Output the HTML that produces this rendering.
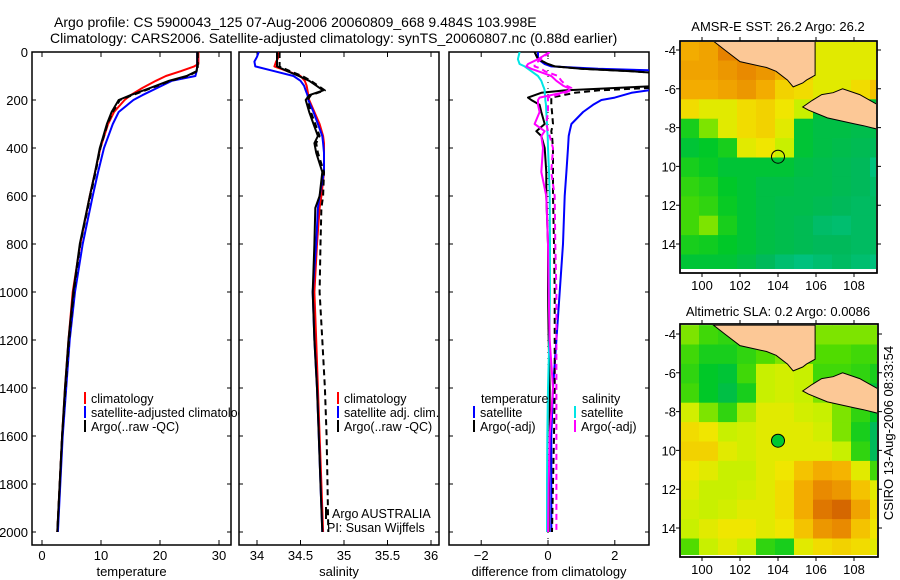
<!DOCTYPE html>
<html><head><meta charset="utf-8">
<style>
html,body{margin:0;padding:0;background:#fff;width:900px;height:580px;overflow:hidden}
svg{display:block;font-family:"Liberation Sans",sans-serif}
</style></head>
<body>
<svg id="fig" width="900" height="580" viewBox="0 0 900 580" xmlns="http://www.w3.org/2000/svg">
<defs>
<clipPath id="c1"><rect x="32" y="52" width="199" height="493"/></clipPath>
<clipPath id="c2"><rect x="239" y="52" width="200" height="493"/></clipPath>
<clipPath id="c3"><rect x="449" y="52" width="200" height="493"/></clipPath>
<clipPath id="m1"><rect x="681" y="42" width="195" height="227"/></clipPath>
<clipPath id="m2"><rect x="681" y="325" width="196" height="230"/></clipPath>
</defs>
<text x="54" y="27" font-size="14">Argo profile: CS 5900043_125 07-Aug-2006 20060809_668 9.484S 103.998E</text>
<text x="50" y="43" font-size="14">Climatology: CARS2006. Satellite-adjusted climatology: synTS_20060807.nc (0.88d earlier)</text>
<g id="g"></g>
<text x="778" y="31" font-size="13" text-anchor="middle">AMSR-E SST: 26.2 Argo: 26.2</text>
<text x="778" y="316" font-size="13" text-anchor="middle">Altimetric SLA: 0.2 Argo: 0.0086</text>
<text transform="translate(893,433) rotate(-90)" font-size="13" text-anchor="middle">CSIRO 13-Aug-2006 08:33:54</text>
</svg>
<script>
// ---------- profile data ----------
const tDepth=[0,50,60,80,100,120,150,180,200,250,300,400,500,600,800,1000,1200,1400,1600,1800,2000];
const tClim=[26.5,26.5,25.8,23.5,21,19.3,17,15,14,12.2,11.2,9.9,9,8.1,6.5,5.2,4.5,3.9,3.4,3.0,2.6];
const tSat=[26.3,26.3,26.3,26.2,26.0,22,19.5,17,15.5,13,12,10.5,9.5,8.6,6.9,5.6,4.7,4.1,3.5,3.1,2.7];
const tArgo=[26.3,26.3,26.3,26.2,24.5,21.5,18.3,15,13,11.8,11,9.8,9,8.1,6.4,5.3,4.5,3.9,3.4,3.0,2.6];
const tArgoRaw=[26.4,26.4,26.4,26.3,24.8,21.8,18.6,15.3,13.2,12,11.1,9.9,9.1,8.2,6.5,5.4,4.6,4.0,3.4,3.0,2.6];

const sDepth=[0,20,40,60,80,100,120,140,160,180,200,250,300,350,380,420,500,600,650,800,1000,1200,1400,1600,1800,2000];
const sClim=[34.25,34.25,34.22,34.2,34.35,34.5,34.55,34.57,34.58,34.59,34.6,34.66,34.72,34.76,34.77,34.77,34.77,34.74,34.72,34.69,34.66,34.68,34.70,34.72,34.74,34.76];
const sSat=[34.02,34.0,33.97,33.98,34.2,34.42,34.5,34.54,34.56,34.58,34.59,34.65,34.7,34.75,34.76,34.77,34.77,34.72,34.7,34.68,34.64,34.66,34.69,34.71,34.73,34.75];
const sArgo=[34.23,34.23,34.23,34.23,34.35,34.48,34.6,34.68,34.76,34.6,34.56,34.6,34.65,34.7,34.66,34.68,34.75,34.72,34.67,34.66,34.64,34.66,34.69,34.71,34.73,34.75];
const sArgoRaw=[34.26,34.26,34.26,34.26,34.38,34.52,34.62,34.7,34.78,34.62,34.58,34.62,34.67,34.72,34.68,34.7,34.77,34.76,34.74,34.73,34.72,34.75,34.78,34.80,34.81,34.82];

const dDepth=[0,30,50,60,70,80,90,100,120,140,150,160,170,190,200,220,250,300,330,350,400,500,600,800,1000,1200,1400,1600,1800,2000];
const dTSat=[-0.3,-0.3,-0.1,0.1,1.5,4,6,7,7,6,4.5,3,2.5,2,1.6,1.35,1.05,0.7,0.65,0.62,0.6,0.55,0.5,0.45,0.35,0.25,0.15,0.1,0.1,0.1];
const dTArgo=[-0.4,-0.3,0,0.2,1,2.5,3.5,4,4.5,3.5,2,0.5,-0.2,-0.6,-0.5,-0.25,-0.2,-0.1,-0.35,-0.2,-0.1,-0.05,-0.05,0,0,0.02,0.05,0.05,0.03,0.02];
const dTRaw=[-0.4,-0.3,0,0.2,1,2.5,3.5,4,4.5,4,3,1.5,0.8,0.1,0.1,0.1,0.12,0.15,0.1,0.12,0.15,0.15,0.15,0.18,0.2,0.2,0.2,0.18,0.15,0.12];
const dSSat=[-0.85,-0.9,-0.85,-0.7,-0.6,-0.5,-0.4,-0.3,-0.2,-0.15,-0.12,-0.1,-0.1,-0.08,-0.08,-0.06,-0.05,-0.03,-0.02,-0.01,0,0.03,0.05,0.06,0.06,0.04,0,-0.02,-0.03,-0.03];
const dSArgo=[0.05,-0.3,-0.6,-0.65,-0.5,-0.3,-0.1,0.1,0.25,0.45,0.6,0.65,0.4,-0.25,-0.3,-0.3,-0.25,-0.4,-0.1,-0.2,-0.15,-0.2,-0.05,0,0.02,0.05,0.15,0.05,0.02,0];
const dSRaw=[0.05,-0.2,-0.4,-0.4,-0.2,-0.1,0.1,0.3,0.4,0.55,0.7,0.7,0.5,0,0,0,0,-0.05,0,0.05,0.15,0.1,0.2,0.22,0.25,0.25,0.25,0.25,0.25,0.25];

const depthTicks=[0,200,400,600,800,1000,1200,1400,1600,1800,2000];
const tTicks=[0,10,20,30];
const sTicks=[34,34.5,35,35.5,36];
const sTickLabels=["34","34.5","35","35.5","36"];
const dTicks=[-2,0,2];
const dTickLabels=["\u22122","0","2"];

// ---------- map data (1° cells, rows from -3.5 southward, cols from 98.84 eastward) ----------
const lonTicks=[100,102,104,106,108];
const latTicks=[-4,-6,-8,-10,-12,-14];
const latTickLabels=["-4","-6","-8","10","12","14"];
const sstGrid=[
[0.7,0.72,0.8,0.9,0.85,0.7,0.6,0.55,0.55,0.55,0.55],
[0.72,0.72,0.75,0.78,0.75,0.7,0.65,0.55,0.55,0.55,0.55],
[0.7,0.7,0.72,0.75,0.7,0.62,0.6,0.55,0.55,0.6,0.65],
[0.6,0.55,0.55,0.6,0.62,0.58,0.5,0.3,0.3,0.3,0.3],
[0.35,0.45,0.55,0.6,0.62,0.55,0.3,0.28,0.28,0.27,0.27],
[0.3,0.32,0.35,0.55,0.58,0.5,0.3,0.28,0.27,0.26,0.25],
[0.35,0.33,0.3,0.3,0.3,0.3,0.28,0.27,0.26,0.25,0.2],
[0.38,0.36,0.32,0.3,0.28,0.28,0.27,0.27,0.26,0.25,0.23],
[0.4,0.38,0.33,0.3,0.28,0.27,0.27,0.26,0.25,0.24,0.24],
[0.4,0.45,0.35,0.3,0.28,0.27,0.26,0.23,0.22,0.24,0.24],
[0.35,0.34,0.32,0.3,0.28,0.27,0.26,0.25,0.25,0.24,0.24],
[0.3,0.3,0.3,0.28,0.25,0.22,0.2,0.22,0.24,0.22,0.2]];
const slaGrid=[
[0.45,0.4,0.38,0.38,0.42,0.45,0.45,0.45,0.45,0.45,0.45],
[0.4,0.35,0.35,0.38,0.42,0.45,0.42,0.42,0.42,0.4,0.4],
[0.38,0.32,0.3,0.4,0.5,0.52,0.5,0.4,0.4,0.38,0.35],
[0.4,0.32,0.28,0.35,0.5,0.52,0.5,0.45,0.4,0.35,0.3],
[0.52,0.45,0.38,0.48,0.55,0.55,0.52,0.5,0.45,0.38,0.32],
[0.6,0.58,0.5,0.52,0.55,0.55,0.55,0.52,0.45,0.35,0.25],
[0.62,0.62,0.55,0.52,0.55,0.55,0.55,0.55,0.5,0.38,0.25],
[0.58,0.55,0.5,0.5,0.55,0.58,0.65,0.7,0.68,0.55,0.4],
[0.55,0.5,0.5,0.52,0.55,0.6,0.7,0.78,0.75,0.65,0.55],
[0.52,0.5,0.52,0.55,0.55,0.6,0.7,0.82,0.85,0.72,0.6],
[0.5,0.55,0.58,0.58,0.55,0.58,0.65,0.75,0.78,0.65,0.58],
[0.42,0.5,0.55,0.5,0.38,0.35,0.55,0.6,0.62,0.6,0.55]];
const sumatraLon=[100.6,101.2,102,103.4,103.9,104.5,104.8,105.3,105.5,105.95,105.95];
const sumatraLat=[-3.54,-4.0,-4.6,-4.9,-5.1,-5.55,-5.9,-5.7,-5.55,-5.3,-3.54];
const javaLon=[105.3,105.8,106.3,106.9,107.4,108.3,109.3,109.3,108.5,108,106.6,105.6];
const javaLat=[-6.94,-6.6,-6.3,-6.2,-6.0,-6.3,-6.85,-8.1,-7.9,-7.8,-7.5,-7.1];
const argoLon=104.0, argoLat=-9.5;

const NS="http://www.w3.org/2000/svg";
const G=document.getElementById('g');
function mk(tag,at,parent){const e=document.createElementNS(NS,tag);for(const k in at)e.setAttribute(k,at[k]);(parent||G).appendChild(e);return e;}

const yD=d=>52+d*0.24;
const xT=v=>42+v*5.9;
const xS=v=>257+(v-34)*87;
const xDf=v=>548+v*33.4;

function panel(x0,x1,name,clip,xs,ticks,labels,title,showY){
  const bg=mk('rect',{x:x0,y:52,width:x1-x0,height:493,fill:'#fff',stroke:'#000','stroke-width':1.5});
  
  
  depthTicks.forEach(d=>{
    const t=mk('path',{d:`M${x0},${yD(d)}h4M${x1},${yD(d)}h-4`,stroke:'#000','stroke-width':1});
    
    
    if(showY){const l=mk('text',{x:x0-4,y:yD(d)+5,'font-size':13,'text-anchor':'end'});l.textContent=d;
      
      }
  });
  ticks.forEach((v,i)=>{
    const t=mk('path',{d:`M${xs(v)},545v-5M${xs(v)},52v5`,stroke:'#000','stroke-width':1});
    
    
    const l=mk('text',{x:xs(v),y:560,'font-size':13,'text-anchor':'middle'});l.textContent=labels[i];
    
    
  });
  const tl=mk('text',{x:(x0+x1)/2,y:576,'font-size':13,'text-anchor':'middle'});tl.textContent=title;
  
  
}
function line(depths,vals,xs,color,clip,name,dash){
  const p=depths.map((d,i)=>(i?'L':'M')+xs(vals[i]).toFixed(1)+','+yD(d).toFixed(1)).join('');
  const e=mk('path',{d:p,fill:'none',stroke:color,'stroke-width':2,'clip-path':`url(#${clip})`,'stroke-dasharray':dash||'none','stroke-linejoin':'round'});
  
  
}
function legend(x,y,color,text,name){
  const b=mk('line',{x1:x,y1:y-11,x2:x,y2:y+1,stroke:color,'stroke-width':2});
  
  
  const t=mk('text',{x:x+6,y:y,'font-size':12.5});t.textContent=text;
  
  
}

// Panel 1 temperature
panel(32,231,'temperature-panel','c1',xT,tTicks,tTicks.map(String),'temperature',true);
line(tDepth,tClim,xT,'#ff0000','c1','temp-climatology-line');
line(tDepth,tSat,xT,'#0000ff','c1','temp-satellite-line');
line(tDepth,tArgoRaw,xT,'#000','c1','temp-argo-raw-line','6,4');
line(tDepth,tArgo,xT,'#000','c1','temp-argo-line');
legend(85,403,'#ff0000','climatology','legend-climatology');
legend(85,417,'#0000ff','satellite-adjusted climatology','legend-satellite-adjusted');
legend(85,431,'#000','Argo(..raw -QC)','legend-argo');

// Panel 2 salinity
panel(239,439,'salinity-panel','c2',xS,sTicks,sTickLabels,'salinity',false);
line(sDepth,sClim,xS,'#ff0000','c2','sal-climatology-line');
line(sDepth,sSat,xS,'#0000ff','c2','sal-satellite-line');
line(sDepth,sArgoRaw,xS,'#000','c2','sal-argo-raw-line','6,4');
line(sDepth,sArgo,xS,'#000','c2','sal-argo-line');
legend(338,403,'#ff0000','climatology','legend2-climatology');
legend(338,417,'#0000ff','satellite adj. clim.','legend2-satellite');
legend(338,431,'#000','Argo(..raw -QC)','legend2-argo');
legend(326,518,'#000','Argo AUSTRALIA','argo-australia-note');
const pi=mk('text',{x:327,y:532,'font-size':12.5});pi.textContent='PI: Susan Wijffels';



// Panel 3 difference
panel(449,649,'difference-panel','c3',xDf,dTicks,dTickLabels,'difference from climatology',false);
const zl=mk('line',{x1:xDf(0),y1:52,x2:xDf(0),y2:545,stroke:'#000','stroke-width':1,'stroke-dasharray':'1,5'});


line(dDepth,dTSat,xDf,'#0000ff','c3','diff-temp-satellite-line');
line(dDepth,dTRaw,xDf,'#000','c3','diff-temp-argo-raw-line','6,4');
line(dDepth,dTArgo,xDf,'#000','c3','diff-temp-argo-line');
line(dDepth,dSSat,xDf,'#00e5e5','c3','diff-sal-satellite-line');
line(dDepth,dSRaw,xDf,'#ff00ff','c3','diff-sal-argo-raw-line','6,4');
line(dDepth,dSArgo,xDf,'#ff00ff','c3','diff-sal-argo-line');
const lt=mk('text',{x:481,y:403,'font-size':12.5});lt.textContent='temperature';


const ls=mk('text',{x:582,y:403,'font-size':12.5});ls.textContent='salinity';


legend(474,417,'#0000ff','satellite','legend3-temp-satellite');
legend(474,431,'#000','Argo(-adj)','legend3-temp-argo');
legend(575,417,'#00e5e5','satellite','legend3-sal-satellite');
legend(575,431,'#ff00ff','Argo(-adj)','legend3-sal-argo');

// ---------- maps ----------
const stops=[[0.15,[0,200,160]],[0.25,[0,185,90]],[0.32,[0,200,40]],[0.42,[80,220,0]],[0.5,[200,240,0]],[0.58,[240,230,0]],[0.68,[245,180,0]],[0.8,[230,130,0]],[0.95,[180,50,0]]];
function cmap(v){
  if(v<=stops[0][0])return `rgb(${stops[0][1]})`;
  for(let i=1;i<stops.length;i++){if(v<=stops[i][0]){const a=stops[i-1],b=stops[i],f=(v-a[0])/(b[0]-a[0]);
    return 'rgb('+a[1].map((c,k)=>Math.round(c+(b[1][k]-c)*f)).join(',')+')';}}
  return `rgb(${stops[stops.length-1][1]})`;
}
function drawMap(grid,y4,clip,name,bx,by,bw,bh,filledMarker){
  const mx=lon=>702+(lon-100)*19;
  const my=lat=>y4+(-4-lat)*19.4;
  const frame=mk('rect',{x:bx,y:by,width:bw,height:bh,fill:'#fff',stroke:'#000','stroke-width':1.5});
  
  
  grid.forEach((row,r)=>row.forEach((v,c)=>{
    const x=mx(98.84+c),y=my(-3.54-r);
    const e=mk('rect',{x:x.toFixed(1),y:y.toFixed(1),width:19.6,height:20,fill:cmap(v),'clip-path':`url(#${clip})`});
    
    
  }));
  [[sumatraLon,sumatraLat,'sumatra'],[javaLon,javaLat,'java']].forEach(([lo,la,nm])=>{
    const p=lo.map((l,i)=>(i?'L':'M')+mx(l).toFixed(1)+','+my(la[i]).toFixed(1)).join('')+'Z';
    const e=mk('path',{d:p,fill:'#fcc896',stroke:'#000','stroke-width':1,'clip-path':`url(#${clip})`});
    
    
  });
  const m=mk('circle',{cx:mx(argoLon),cy:my(argoLat),r:6.5,fill:filledMarker?'#00c830':'none',stroke:'#000','stroke-width':1});
  
  
  const fr=mk('rect',{x:bx,y:by,width:bw,height:bh,fill:'none',stroke:'#000','stroke-width':1.5});
  
  
  lonTicks.forEach(l=>{
    const t=mk('path',{d:`M${mx(l)},${by}v-4M${mx(l)},${by+bh}v4`,stroke:'#000'});
    
    
    const tx=mk('text',{x:mx(l),y:by+bh+17,'font-size':13,'text-anchor':'middle'});tx.textContent=l;
    
    
  });
  latTicks.forEach((l,i)=>{
    const t=mk('path',{d:`M${bx},${my(l)}h-4M${bx+bw},${my(l)}h4`,stroke:'#000'});
    
    
    const tx=mk('text',{x:bx-4,y:my(l)+5,'font-size':13,'text-anchor':'end'});tx.textContent=latTickLabels[i];
    
    
  });
}
drawMap(sstGrid,50,'m1','sst-map',680,41,197,232,false);
drawMap(slaGrid,334,'m2','sla-map',680,324,198,233,true);
</script>
</body></html>
